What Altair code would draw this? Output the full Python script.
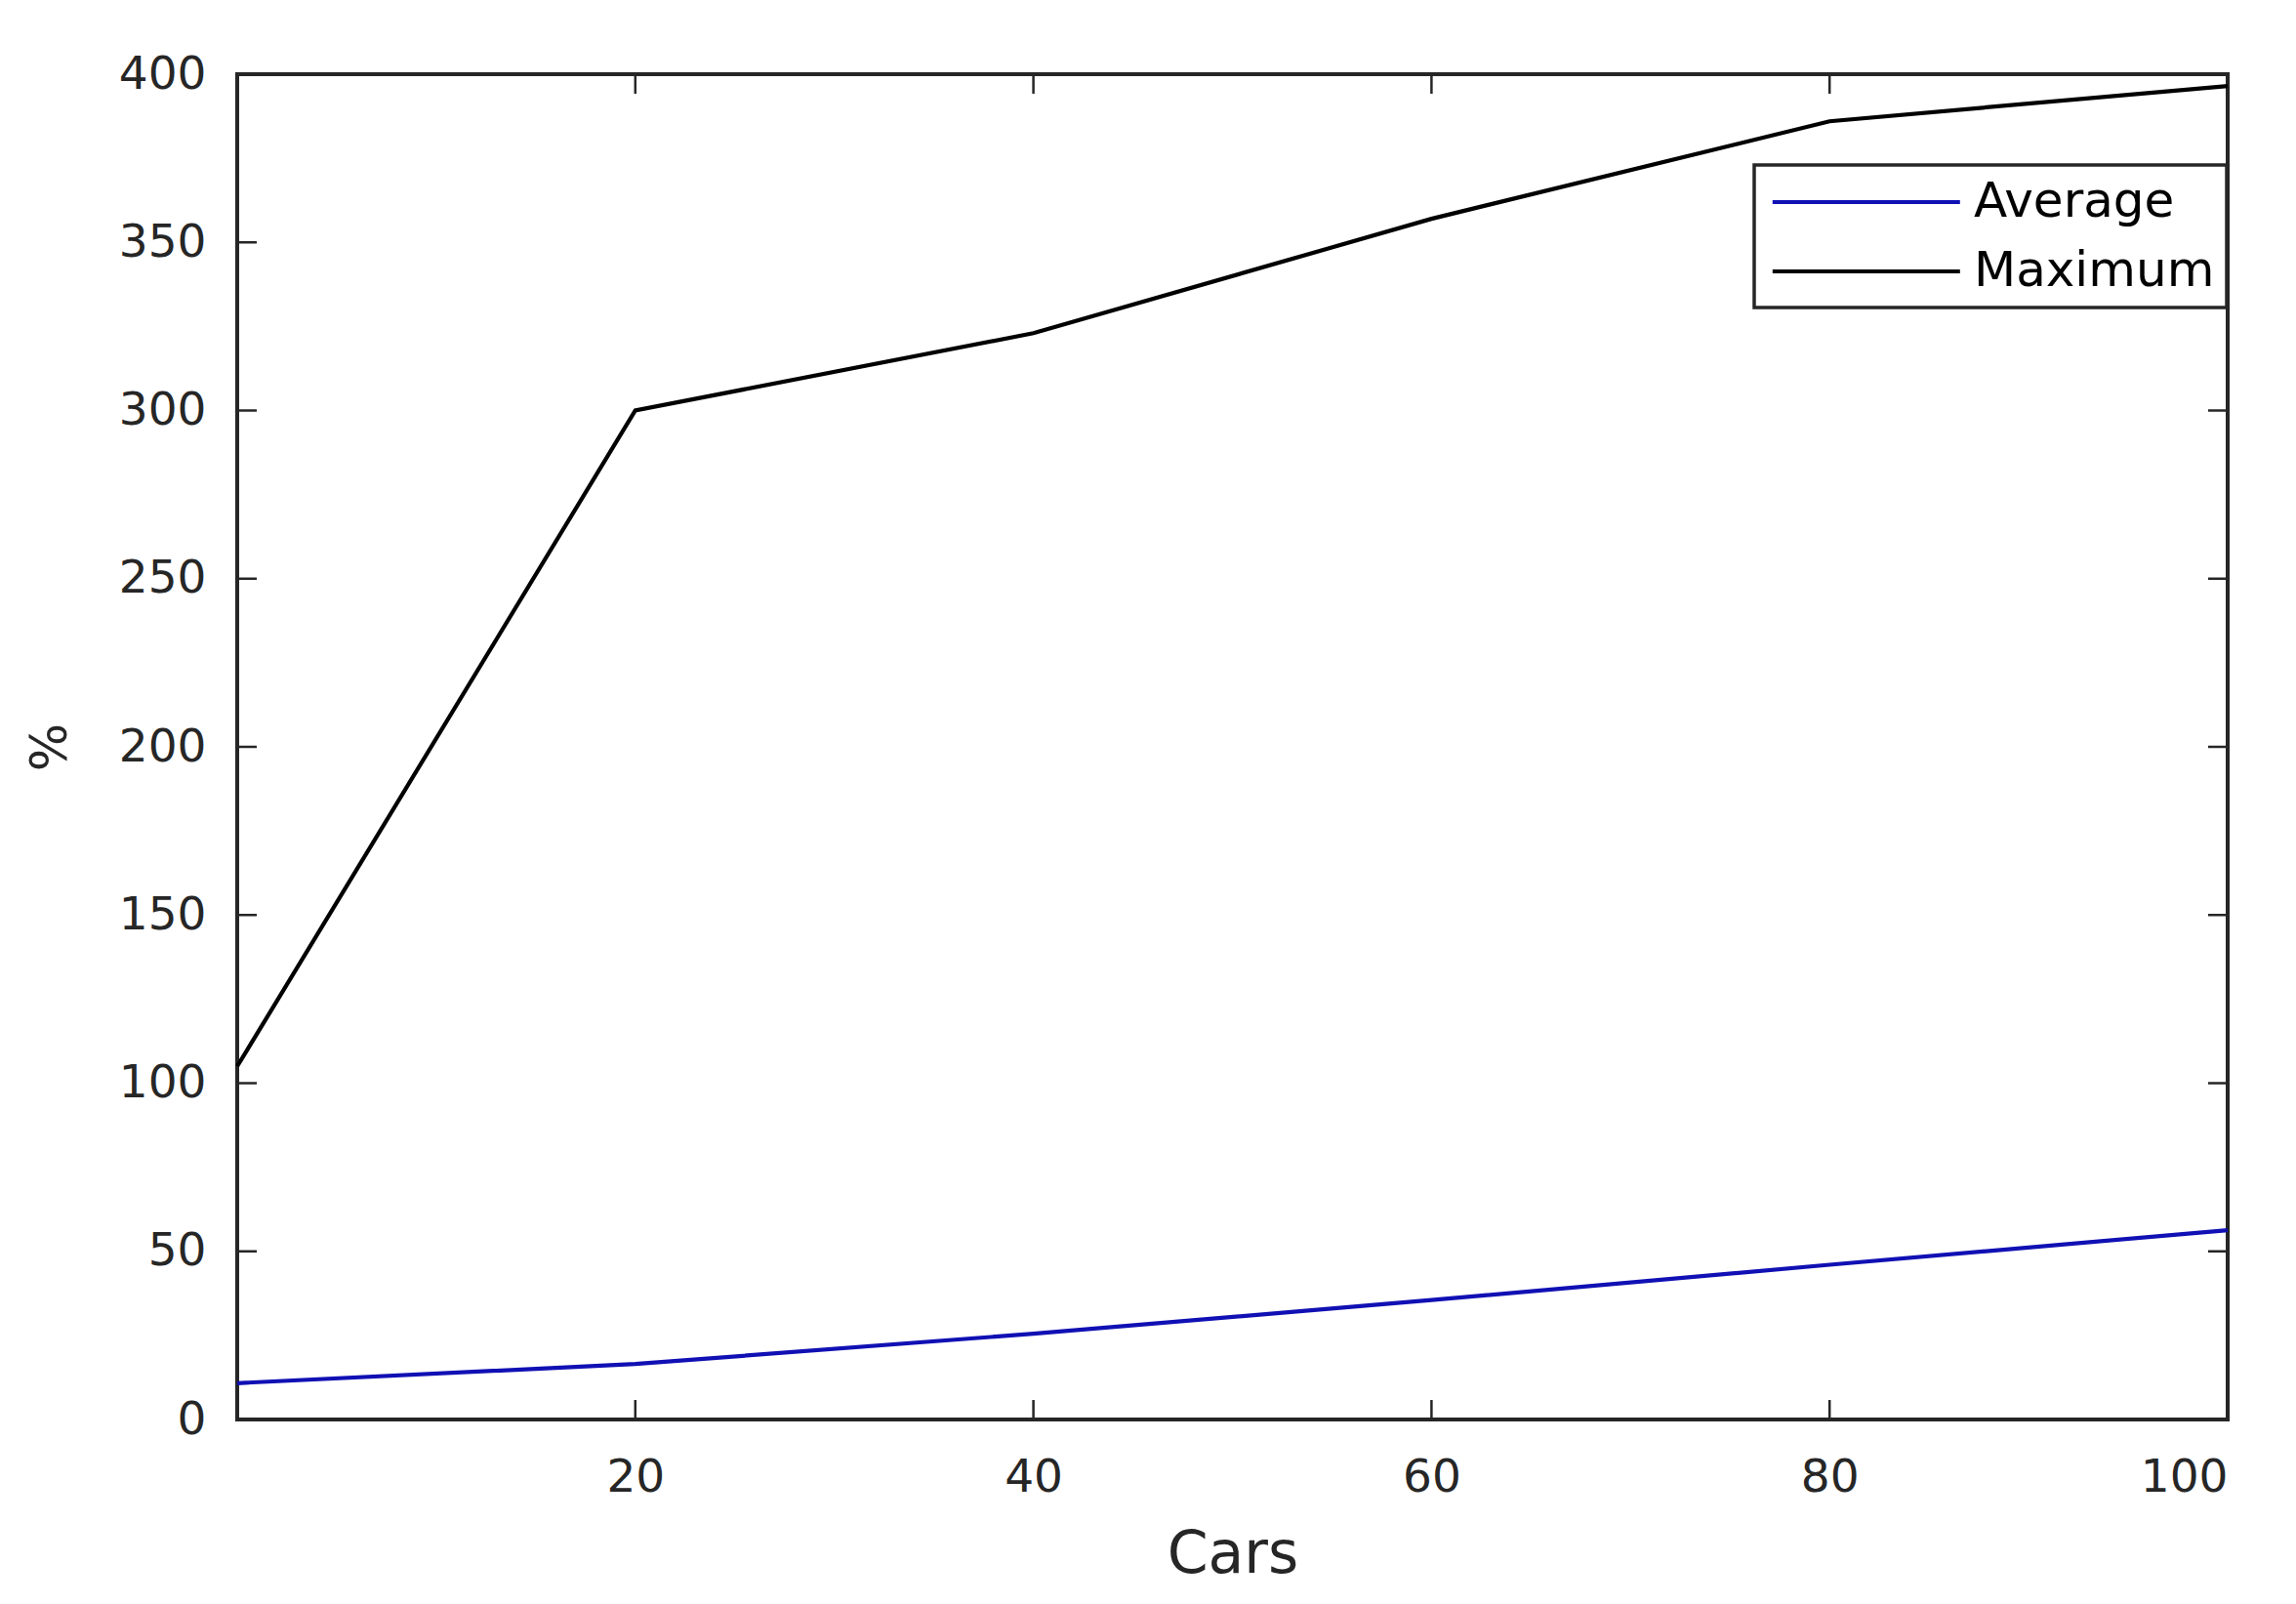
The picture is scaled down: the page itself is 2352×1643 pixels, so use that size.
import altair as alt
import pandas as pd

# ---- data ----
cars = [0, 20, 40, 60, 80, 100]
average = [10.8, 16.5, 25.5, 35.5, 46.0, 56.3]
maximum = [105.0, 300.0, 323.0, 357.0, 386.0, 396.5]
series_names = ["Average", "Maximum"]
series_colors = ["#1010b4", "#000000"]
x_ticks = [20, 40, 60, 80, 100]
y_ticks = [0, 50, 100, 150, 200, 250, 300, 350, 400]

W, H = 2039, 1378
TICK = 20
FONT = "DejaVu Sans"
AXIS_COLOR = "#262626"

df = pd.DataFrame({
    "Cars": cars + cars,
    "value": average + maximum,
    "series": ["Average"] * len(cars) + ["Maximum"] * len(cars),
})
xt = pd.DataFrame({"Cars": x_ticks})
yt = pd.DataFrame({"value": y_ticks})

xscale = alt.Scale(domain=[0, 100], nice=False, zero=False)
yscale = alt.Scale(domain=[0, 400], nice=False, zero=False)

lines = alt.Chart(df).mark_line(strokeWidth=4.2).encode(
    x=alt.X("Cars:Q", scale=xscale,
            axis=alt.Axis(values=x_ticks, title="Cars", labelPadding=36,
                          labelBaseline="top", titleX=W / 2, titleY=156,
                          titleBaseline="alphabetic", titleAlign="center",
                          titleFontSize=60)),
    y=alt.Y("value:Q", scale=yscale,
            axis=alt.Axis(values=y_ticks, title="%", labelPadding=32,
                          labelBaseline="middle", titleX=-192, titleY=H / 2,
                          titleAngle=270, titleAlign="center",
                          titleBaseline="middle", titleFontSize=52)),
    color=alt.Color("series:N",
                    scale=alt.Scale(domain=series_names, range=series_colors),
                    legend=alt.Legend(title=None, orient="none",
                                      legendX=1554, legendY=93,
                                      strokeColor=AXIS_COLOR, fillColor="white",
                                      padding=12, rowPadding=20,
                                      symbolType="M-0.8,0H7.2", symbolSize=2304,
                                      symbolStrokeWidth=3.8, labelOffset=161,
                                      labelFont=FONT, labelFontSize=50,
                                      labelColor="#000000", labelLimit=0)),
    detail="series:N",
)

tick_color = AXIS_COLOR
bottom_ticks = alt.Chart(xt).mark_rule(color=tick_color, strokeWidth=2.5).encode(
    x=alt.X("Cars:Q", scale=xscale), y=alt.value(H), y2=alt.value(H - TICK))
top_ticks = alt.Chart(xt).mark_rule(color=tick_color, strokeWidth=2.5).encode(
    x=alt.X("Cars:Q", scale=xscale), y=alt.value(0), y2=alt.value(TICK))
left_ticks = alt.Chart(yt).mark_rule(color=tick_color, strokeWidth=2.5).encode(
    y=alt.Y("value:Q", scale=yscale), x=alt.value(0), x2=alt.value(TICK))
right_ticks = alt.Chart(yt).mark_rule(color=tick_color, strokeWidth=2.5).encode(
    y=alt.Y("value:Q", scale=yscale), x=alt.value(W - TICK), x2=alt.value(W))

chart = alt.layer(bottom_ticks, top_ticks, left_ticks, right_ticks, lines).properties(
    width=W, height=H,
    autosize=alt.AutoSizeParams(type="none"),
    padding={"left": 235, "top": 68, "right": 40, "bottom": 180},
    background="white",
).configure_axis(
    domain=False, grid=False, ticks=False,
    labelFont=FONT, labelFontSize=47, labelColor=AXIS_COLOR,
    titleFont=FONT, titleFontWeight="normal", titleColor=AXIS_COLOR,
).configure_view(
    stroke=AXIS_COLOR, strokeWidth=4,
).configure_legend(
    strokeWidth=3.5,
)

chart.save("out.html", embed_options={"renderer": "svg", "actions": False})
